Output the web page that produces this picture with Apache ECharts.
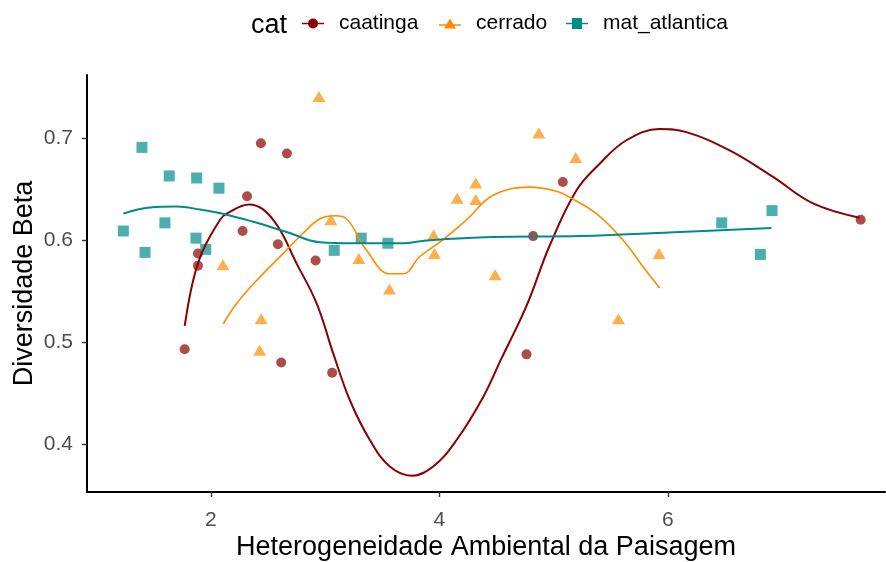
<!DOCTYPE html>
<html><head><meta charset="utf-8">
<script src="https://cdn.jsdelivr.net/npm/echarts@6/dist/echarts.min.js"></script>
<style>html,body{margin:0;padding:0;background:#fff}#c{width:886px;height:562px}</style>
</head><body><div id="c"></div>
<script>
const categories = ['caatinga','cerrado','mat_atlantica'];
const xTicks = [2,4,6];
const yTicks = [0.4,0.5,0.6,0.7];

const caatingaX = [1.77,1.886,1.886,2.277,2.316,2.437,2.586,2.615,2.665,2.916,3.061,4.762,4.82,5.08,7.687];
const caatingaY = [0.493,0.587,0.575,0.609,0.643,0.695,0.596,0.480,0.685,0.580,0.470,0.488,0.604,0.657,0.620];
const cerradoX = [2.105,2.426,2.44,2.945,3.05,3.295,3.563,3.948,3.957,4.155,4.318,4.318,4.487,4.87,5.193,5.567,5.922];
const cerradoY = [0.576,0.492,0.523,0.741,0.620,0.582,0.552,0.605,0.587,0.641,0.656,0.640,0.566,0.705,0.681,0.523,0.587];
const matX = [1.233,1.396,1.423,1.597,1.635,1.869,1.875,1.954,2.07,3.079,3.315,3.549,6.471,6.809,6.911];
const matY = [0.609,0.691,0.588,0.617,0.663,0.602,0.661,0.591,0.651,0.590,0.602,0.597,0.617,0.586,0.629];

const caatingaLineX = [1.77,1.845,1.93,2.08,2.137,2.335,2.545,2.75,2.925,3.07,3.216,3.391,3.566,3.756,3.945,4.15,4.382,4.543,4.76,4.966,5.2,5.403,5.637,5.928,6.162,6.54,6.92,7.27,7.678];
const caatingaLineY = [0.516,0.561,0.590,0.620,0.626,0.635,0.620,0.577,0.538,0.489,0.443,0.404,0.378,0.369,0.378,0.404,0.446,0.484,0.535,0.595,0.649,0.675,0.698,0.709,0.706,0.688,0.662,0.636,0.622];
const cerradoLineX = [2.108,2.225,2.43,2.633,2.808,2.954,3.085,3.187,3.362,3.566,3.683,3.828,4.003,4.237,4.47,4.79,5.025,5.14,5.374,5.607,5.782,5.928];
const cerradoLineY = [0.518,0.538,0.564,0.587,0.607,0.621,0.624,0.621,0.590,0.567,0.567,0.584,0.598,0.620,0.644,0.652,0.648,0.642,0.626,0.600,0.574,0.553];
const matLineX = [1.233,1.466,1.70,1.904,2.137,2.37,2.662,2.954,3.245,3.653,3.916,4.47,5.228,6.103,6.906];
const matLineY = [0.626,0.632,0.633,0.630,0.625,0.618,0.608,0.598,0.597,0.597,0.600,0.603,0.604,0.608,0.612];

const colors = ['#8B0000','#FF8C00','#008B8B'];
const symbols = ['circle','triangle','rect'];
const symbolSizes = [10,[13,11],11];
const icons = [
  'path://M0,4.3L22,4.3L22,5.7L0,5.7Z M16,5A5,5 0 1 1 6,5A5,5 0 1 1 16,5Z',
  'path://M0,5.8L22,5.8L22,7.2L0,7.2Z M11,0L17,10L5,10Z',
  'path://M0,4.8L22,4.8L22,6.2L0,6.2Z M6,0L16,0L16,11L6,11Z'
];
const legendLeft = [302,439,566];

const zip = (xs, ys) => xs.map((x, i) => [x, ys[i]]);
const pts = [zip(caatingaX, caatingaY), zip(cerradoX, cerradoY), zip(matX, matY)];
const lines = [zip(caatingaLineX, caatingaLineY), zip(cerradoLineX, cerradoLineY), zip(matLineX, matLineY)];
const lineWidths = [2, 1.6, 2];

const FONT = '"Liberation Sans", Arial, sans-serif';
const chart = echarts.init(document.getElementById('c'), null, {renderer:'canvas'});

const series = [];
categories.forEach((c, i) => {
  series.push({
    name: c, type: 'scatter', data: pts[i], symbol: symbols[i], symbolSize: symbolSizes[i],
    itemStyle: {color: colors[i], opacity: 0.7}, z: 2, silent: true
  });
});
categories.forEach((c, i) => {
  series.push({
    name: c, type: 'line', data: lines[i], smooth: 0.4, showSymbol: false,
    lineStyle: {color: colors[i], width: lineWidths[i]}, itemStyle:{color: colors[i]}, z: 3, silent: true
  });
});

chart.setOption({
  animation: false,
  backgroundColor: '#fff',
  textStyle: {fontFamily: FONT},
  graphic: [{type:'text', left: 251, top: 12, style: {text: 'cat', fontSize: 27, fontFamily: FONT, fill: '#000'}}],
  legend: categories.map((c, i) => ({
    left: legendLeft[i], top: 13, padding: 0, itemWidth: 22, itemHeight: 11, itemGap: 0,
    selectedMode: false,
    data: [{name: c, icon: icons[i], itemStyle: {color: colors[i], opacity: 1}}],
    textStyle: {fontSize: 21, fontFamily: FONT, color: '#000', padding: [4,0,0,10]}
  })),
  grid: {left: 87, right: 1, top: 75, bottom: 70, containLabel: false, outerBoundsMode: 'none'},
  xAxis: {
    type: 'value', min: 0.915, max: 7.9,
    name: 'Heterogeneidade Ambiental da Paisagem', nameLocation: 'middle', nameGap: 42, nameMoveOverlap: false,
    nameTextStyle: {fontSize: 27, color: '#000', fontFamily: FONT},
    axisLine: {show: true, lineStyle: {color: '#000', width: 2}},
    axisTick: {show: true, length: 5, customValues: xTicks, lineStyle: {color: '#333', width: 1.4}},
    axisLabel: {customValues: xTicks, fontSize: 21, color: '#4D4D4D', margin: 18, fontFamily: FONT},
    splitLine: {show: false}
  },
  yAxis: {
    type: 'value', min: 0.353, max: 0.762,
    name: 'Diversidade Beta', nameLocation: 'middle', nameGap: 49, nameRotate: 90, nameMoveOverlap: false,
    nameTextStyle: {fontSize: 27, color: '#000', fontFamily: FONT},
    axisLine: {show: true, lineStyle: {color: '#000', width: 2}},
    axisTick: {show: true, length: 5, customValues: yTicks, lineStyle: {color: '#333', width: 1.4}},
    axisLabel: {customValues: yTicks, fontSize: 21, color: '#4D4D4D', margin: 14, fontFamily: FONT,
      formatter: v => v.toFixed(1)},
    splitLine: {show: false}
  },
  series: series
});
</script></body></html>
